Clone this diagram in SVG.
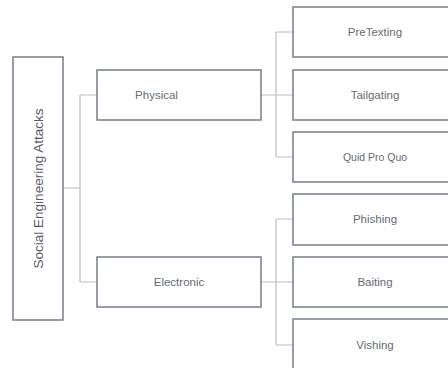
<svg xmlns="http://www.w3.org/2000/svg" width="448" height="368" viewBox="0 0 448 368">
<style>
.box{fill:#fff;stroke:#767e8b;stroke-width:1.5}
.lbl{font-family:"Liberation Sans",Arial,sans-serif;font-size:11.5px;fill:#656b76;text-anchor:middle;dominant-baseline:central}
.con{fill:none;stroke:#b9bec6;stroke-width:1.2}
</style>
<rect width="448" height="368" fill="#fff"/>
<g id="connectors">
<path class="con" d="M63 188H80M80 95V282M80 95H97M80 282H97"/>
<path class="con" d="M261 95H276M276 32V157M276 32H293M276 95H293M276 157H293"/>
<path class="con" d="M261 282H276M276 219V345M276 219H293M276 282H293M276 345H293"/>
</g>
<g id="root"><rect class="box" x="13" y="57" width="50" height="263"/><text class="lbl" transform="translate(38,188.5) rotate(-90)" style="font-size:13.5px;fill:#575d68">Social Engineering Attacks</text></g>
<g id="physical"><rect class="box" x="97" y="70" width="164" height="50"/><text class="lbl" x="156.5" y="95">Physical</text></g>
<g id="electronic"><rect class="box" x="97" y="257" width="164" height="50"/><text class="lbl" x="179" y="282">Electronic</text></g>
<g id="pretexting"><rect class="box" x="293" y="7" width="164" height="50"/><text class="lbl" x="375" y="32">PreTexting</text></g>
<g id="tailgating"><rect class="box" x="293" y="70" width="164" height="50"/><text class="lbl" x="375" y="95">Tailgating</text></g>
<g id="quidproquo"><rect class="box" x="293" y="132" width="164" height="50"/><text class="lbl" x="375" y="157" style="font-size:10.5px">Quid Pro Quo</text></g>
<g id="phishing"><rect class="box" x="293" y="194" width="164" height="51"/><text class="lbl" x="375" y="219">Phishing</text></g>
<g id="baiting"><rect class="box" x="293" y="257" width="164" height="50"/><text class="lbl" x="375" y="282">Baiting</text></g>
<g id="vishing"><rect class="box" x="293" y="319" width="164" height="52"/><text class="lbl" x="375" y="345">Vishing</text></g>
</svg>
